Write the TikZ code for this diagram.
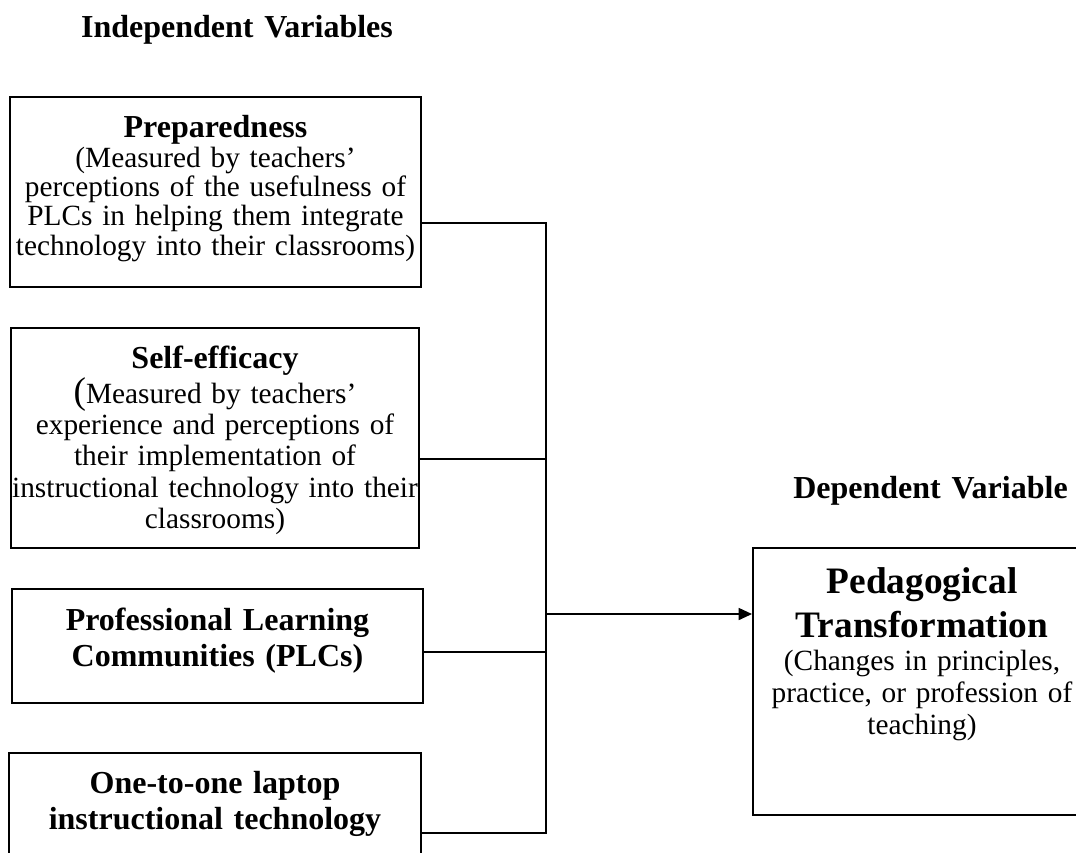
\documentclass[tikz,border=0pt]{standalone}
\usepackage{fontspec}
\setmainfont{Liberation Serif}
\usetikzlibrary{arrows.meta}
\usetikzlibrary{calc,positioning}

\begin{document}
\begin{tikzpicture}[x=0.375pt,y=-0.375pt,
    varbox/.style={draw,line width=0.75pt,minimum width=#1},
    headtxt/.style={anchor=base,font=\bfseries\fontsize{12}{13.5}\selectfont,text width=160pt,align=center},
    bodytxt/.style={anchor=base,font=\fontsize{11}{11}\selectfont,text width=160pt,align=center},
    link/.style={line width=0.6pt}]
      \clip (0,0) rectangle (1076,852);

      \node[headtxt] (indep) at (237,37) {Independent Variables};
      \node[headtxt] (dep) at (930.5,498) {Dependent Variable};

      \node[varbox=154.1pt,minimum height=71.25pt] (prep) at (215.5,192) {};
      \node[headtxt] (prep-head) at (215.5,137) {Preparedness};
      \node[bodytxt] (prep-text) at (215.5,167) {(Measured by teachers’\\
        perceptions of the usefulness of\\
        PLCs in helping them integrate\\
        technology into their classrooms)};

      \node[varbox=153pt,minimum height=82.5pt] (self) at (215,438) {};
      \node[headtxt] (self-head) at (215,368) {Self-efficacy};
      \node[bodytxt,font=\fontsize{11}{11.8}\selectfont] (self-text) at (215,403)
        {{\fontsize{14}{11.8}\selectfont(}Measured by teachers’\\
        experience and perceptions of\\
        their implementation of\\
        instructional technology into their\\
        classrooms)};

      \node[varbox=154.1pt,minimum height=42.75pt] (plc) at (217.5,646) {};
      \node[headtxt] (plc-head) at (217.5,630) {Professional Learning\\ Communities (PLCs)};

      \node[varbox=154.5pt,minimum height=47.6pt] (lap) at (215,816.5) {};
      \node[headtxt] (lap-head) at (215,793) {One-to-one laptop\\ instructional technology};

      \node[varbox=126.75pt,minimum height=100.1pt] (ped) at (922,681.5) {};
      \node[headtxt,font=\bfseries\fontsize{14}{16.5}\selectfont] (ped-head) at (922,593)
        {Pedagogical\\ Transformation};
      \node[bodytxt,font=\fontsize{11}{12}\selectfont] (ped-text) at (922,670)
        {(Changes in principles,\\ practice, or profession of\\ teaching)};

      \coordinate (j1) at (546,223);
      \coordinate (j2) at (546,459);
      \coordinate (j3) at (546,652);
      \coordinate (j4) at (546,833);
      \coordinate (ja) at (546,614);

      \draw[link] (prep.east |- j1) -- (j1) -- (j4) -- (lap.east |- j4);
      \draw[link] (self.east |- j2) -- (j2);
      \draw[link] (plc.east |- j3) -- (j3);
      \draw[link,-{Triangle[length=5pt,width=4.5pt]}] (ja) -- (ped.west |- ja);

\end{tikzpicture}
\end{document}
